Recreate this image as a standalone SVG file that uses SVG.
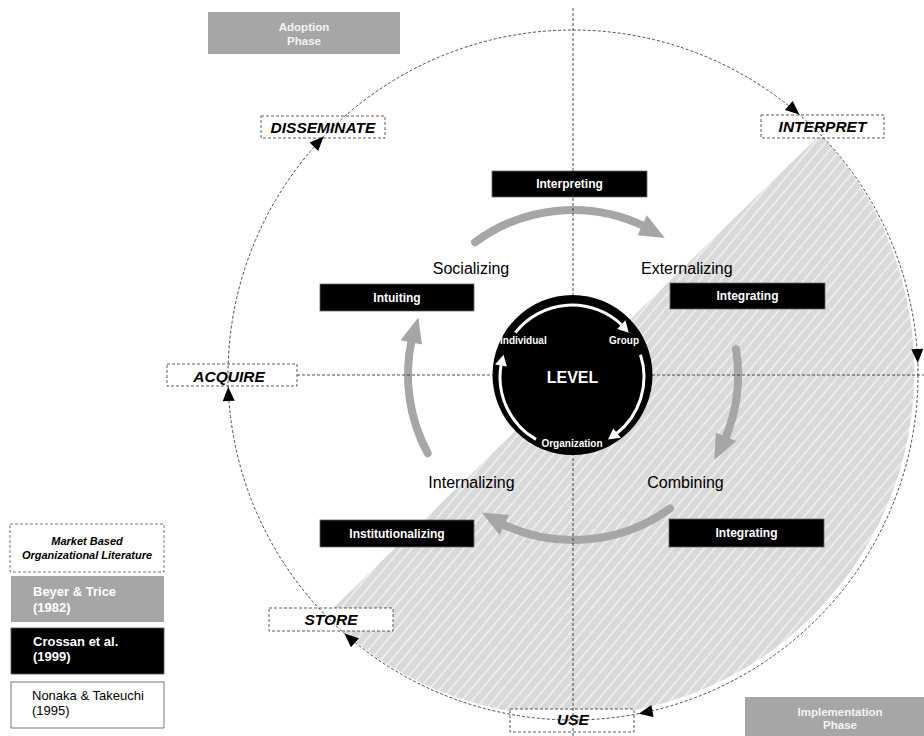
<svg xmlns="http://www.w3.org/2000/svg" width="924" height="736" viewBox="0 0 924 736">
  <defs>
    <pattern id="hatch" width="8" height="8" patternUnits="userSpaceOnUse" patternTransform="rotate(40)">
      <rect width="8" height="8" fill="#d9d9d9"/>
      <line x1="4" y1="0" x2="4" y2="8" stroke="#ffffff" stroke-width="1"/>
    </pattern>
  </defs>
  <style>
    text { font-family: "Liberation Sans", Arial, Helvetica, sans-serif; }
    .phase rect { fill: #a6a6a6; }
    .phase text { fill: #f4f4f4; font-weight: bold; font-size: 11.5px; text-anchor: middle; }
    .stage rect { fill: #ffffff; stroke: #333333; stroke-width: 0.8; stroke-dasharray: 3 2; }
    .stage text { fill: #000000; font-weight: bold; font-style: italic; font-size: 15.5px; text-anchor: middle; }
    .proc rect { fill: #000000; stroke: #666666; stroke-width: 0.8; }
    .proc text { fill: #ffffff; font-weight: bold; font-size: 12px; text-anchor: middle; }
    .mode text { fill: #000000; font-size: 16px; }
    .axis, .cycle { fill: none; stroke: #222222; stroke-width: 0.8; stroke-dasharray: 3 2; }
    .head { fill: #000000; }
    .flow { fill: none; stroke: #a6a6a6; stroke-width: 8; stroke-linecap: round; }
    .flowhead { fill: #a6a6a6; }
    .lvl { fill: none; stroke: #ffffff; stroke-width: 3; }
    .lvlhead { fill: #ffffff; }
    .lvltext { fill: #ffffff; font-weight: bold; font-size: 10px; }
    .legend text { font-size: 13px; }
  </style>

  <rect width="924" height="736" fill="#ffffff"/>

  <!-- implementation half of the cycle -->
  <path id="implementation-zone" d="M 820.3 134.5 A 345 345 0 0 1 325.7 615.5 Z" fill="url(#hatch)"/>

  <!-- knowledge-conversion flows -->
  <g id="flows">
    <path class="flow" d="M 475.1 242.2 A 165 165 0 0 1 644.8 226.5"/>
    <polygon class="flowhead" points="664.8,237.9 637.6,235.2 646.8,215.2"/>
    <path class="flow" d="M 736.0 349.2 A 165 165 0 0 1 724.9 439.5"/>
    <polygon class="flowhead" points="714.4,460.0 715.8,432.7 736.2,440.9"/>
    <path class="flow" d="M 670.0 508.5 A 165 165 0 0 1 501.7 523.8"/>
    <polygon class="flowhead" points="481.7,512.4 508.9,515.0 499.7,535.0"/>
    <path class="flow" d="M 427.7 453.2 A 165 165 0 0 1 411.8 339.6"/>
    <polygon class="flowhead" points="418.3,317.5 422.0,344.6 400.5,340.2"/>
  </g>

  <!-- learning processes -->
  <g id="interpreting" class="proc">
    <rect x="492" y="171" width="155" height="26"/>
    <text x="569.5" y="188">Interpreting</text>
  </g>
  <g id="intuiting" class="proc">
    <rect x="320" y="284" width="154" height="27"/>
    <text x="397" y="301.5">Intuiting</text>
  </g>
  <g id="integrating-upper" class="proc">
    <rect x="670" y="283" width="155" height="26"/>
    <text x="747.5" y="300">Integrating</text>
  </g>
  <g id="institutionalizing" class="proc">
    <rect x="320" y="520" width="154" height="27"/>
    <text x="397" y="537.5">Institutionalizing</text>
  </g>
  <g id="integrating-lower" class="proc">
    <rect x="669" y="519" width="155" height="28"/>
    <text x="746.5" y="537">Integrating</text>
  </g>

  <!-- phases -->
  <g id="adoption-phase" class="phase">
    <rect x="208" y="12" width="192" height="42"/>
    <text x="304" y="31">Adoption</text>
    <text x="304" y="45">Phase</text>
  </g>
  <g id="implementation-phase" class="phase">
    <rect x="745" y="697" width="179" height="39"/>
    <text x="840" y="715.5">Implementation</text>
    <text x="840" y="729">Phase</text>
  </g>

  <!-- cycle stages -->
  <g id="disseminate" class="stage">
    <rect x="261" y="116" width="124" height="22"/>
    <text x="323" y="133">DISSEMINATE</text>
  </g>
  <g id="interpret" class="stage">
    <rect x="761" y="115" width="123" height="23"/>
    <text x="822.5" y="132">INTERPRET</text>
  </g>
  <g id="acquire" class="stage">
    <rect x="167" y="364" width="130" height="22"/>
    <text x="229" y="381.5">ACQUIRE</text>
  </g>
  <g id="store" class="stage">
    <rect x="269" y="608" width="124" height="23"/>
    <text x="331" y="625">STORE</text>
  </g>
  <g id="use" class="stage">
    <rect x="510" y="709" width="124" height="23"/>
    <text x="573" y="725">USE</text>
  </g>

  <!-- axes and the outer cycle -->
  <g id="connectors">
    <line class="axis" x1="573" y1="8" x2="573" y2="736"/>
    <line class="axis" x1="297" y1="375" x2="924" y2="375"/>
    <circle class="cycle" cx="573" cy="375" r="345"/>
    <polygon class="head" points="799.4,114.6 792.7,100.9 784.9,109.9"/>
    <polygon class="head" points="917.8,363.0 923.3,348.8 911.3,349.2"/>
    <polygon class="head" points="638.8,713.7 653.6,716.9 651.4,705.1"/>
    <polygon class="head" points="344.4,633.4 350.9,647.2 358.9,638.2"/>
    <polygon class="head" points="228.2,387.0 222.7,401.2 234.7,400.8"/>
    <polygon class="head" points="323.6,136.6 309.6,142.6 318.2,150.9"/>
  </g>

  <!-- knowledge conversion modes -->
  <g id="socializing" class="mode"><text x="471" y="274" text-anchor="middle">Socializing</text></g>
  <g id="externalizing" class="mode"><text x="641" y="274">Externalizing</text></g>
  <g id="internalizing" class="mode"><text x="471.5" y="488" text-anchor="middle">Internalizing</text></g>
  <g id="combining" class="mode"><text x="685.5" y="488" text-anchor="middle">Combining</text></g>

  <!-- level hub -->
  <g id="level">
    <circle cx="572.5" cy="375" r="80" fill="#000000"/>
    <path class="lvl" d="M 515.3 332.7 A 72 72 0 0 1 622.2 325.4"/>
    <polygon class="lvlhead" points="628.7,332.7 617.2,328.9 625.4,320.2"/>
    <path class="lvl" d="M 640.5 354.8 A 72 72 0 0 1 616.1 433.9"/>
    <polygon class="lvlhead" points="608,439.4 613.3,428.5 620.8,437.8"/>
    <path class="lvl" d="M 536 439.4 A 72 72 0 0 1 501.2 364.2"/>
    <polygon class="lvlhead" points="503.5,354.8 506.9,366.4 495.0,364.5"/>
    <text class="lvltext" x="500" y="344">Individual</text>
    <text class="lvltext" x="639" y="344" text-anchor="end">Group</text>
    <text class="lvltext" x="572" y="447" text-anchor="middle">Organization</text>
    <text x="572.5" y="383" fill="#ffffff" font-weight="bold" font-size="16px" text-anchor="middle">LEVEL</text>
  </g>

  <!-- legend -->
  <g id="legend-title">
    <rect x="10" y="524" width="154" height="48" fill="#ffffff" stroke="#555555" stroke-width="0.8" stroke-dasharray="3 2"/>
    <text x="87" y="544.5" font-size="11px" font-weight="bold" font-style="italic" text-anchor="middle">Market Based</text>
    <text x="87" y="559" font-size="11px" font-weight="bold" font-style="italic" text-anchor="middle">Organizational Literature</text>
  </g>
  <g id="legend-beyer" class="legend">
    <rect x="11" y="576" width="153" height="46" fill="#a6a6a6"/>
    <text x="33" y="596" fill="#ffffff" font-weight="bold">Beyer &amp; Trice</text>
    <text x="33" y="612" fill="#ffffff" font-weight="bold">(1982)</text>
  </g>
  <g id="legend-crossan" class="legend">
    <rect x="11" y="628" width="153" height="46" fill="#000000" stroke="#555555" stroke-width="0.8"/>
    <text x="33" y="645.5" fill="#ffffff" font-weight="bold">Crossan et al.</text>
    <text x="33" y="661" fill="#ffffff" font-weight="bold">(1999)</text>
  </g>
  <g id="legend-nonaka" class="legend">
    <rect x="11" y="682" width="153" height="46" fill="#ffffff" stroke="#555555" stroke-width="0.8"/>
    <text x="32" y="700" fill="#000000" font-size="13.5px">Nonaka &amp; Takeuchi</text>
    <text x="32" y="715" fill="#000000" font-size="13.5px">(1995)</text>
  </g>
</svg>
